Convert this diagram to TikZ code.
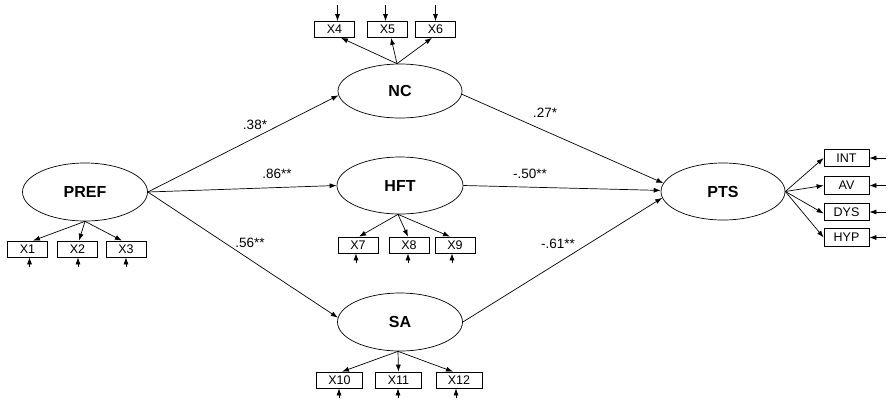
\documentclass[tikz,border=0pt]{standalone}
\usepackage{fontspec}
\setmainfont{Liberation Sans}
\usetikzlibrary{shapes.geometric,arrows.meta}
\begin{document}
\begin{tikzpicture}[x=1pt,y=-1pt,
  lat/.style={draw,ellipse,line width=0.7pt,inner sep=0pt,font=\fontsize{16}{18}\selectfont\bfseries},
  ind/.style={draw,rectangle,line width=0.7pt,inner sep=0pt,minimum width=40pt,minimum height=16pt,font=\fontsize{12.5}{14}\selectfont},
  indw/.style={ind,minimum width=46pt},
  indr/.style={ind,minimum width=45pt,minimum height=17.5pt},
  arr/.style={line width=0.7pt,-{Latex[length=7pt,width=5pt]}},
  coef/.style={font=\fontsize{13.5}{15}\selectfont,inner sep=1pt}]
\useasboundingbox (0,0) rectangle (890,400);
% latent variables
\node[lat,minimum width=125pt,minimum height=58pt] (PREF) at (85,192) {PREF};
\node[lat,minimum width=124pt,minimum height=54pt] (NC) at (400,91) {NC};
\node[lat,minimum width=126pt,minimum height=57pt] (HFT) at (400,185.5) {HFT};
\node[lat,minimum width=125pt,minimum height=58pt] (SA) at (400,322) {SA};
\node[lat,minimum width=124pt,minimum height=57pt] (PTS) at (723,191.5) {PTS};
% indicators
\node[ind] (X1) at (27.5,249) {X1};
\node[ind] (X2) at (77.5,249) {X2};
\node[ind] (X3) at (126,249) {X3};
\node[ind] (X4) at (334.5,29.5) {X4};
\node[ind] (X5) at (387.5,29.5) {X5};
\node[ind] (X6) at (435.5,29.5) {X6};
\node[ind] (X7) at (358,245) {X7};
\node[ind] (X8) at (409,245) {X8};
\node[ind] (X9) at (455,245) {X9};
\node[indw] (X10) at (339.5,380) {X10};
\node[indw] (X11) at (398.5,380) {X11};
\node[indw] (X12) at (459,380) {X12};
\node[indr] (INT) at (846.5,158) {INT};
\node[indr] (AV) at (846.5,185.5) {AV};
\node[indr] (DYS) at (846.5,212) {DYS};
\node[indr] (HYP) at (846.5,237.5) {HYP};
% structural paths
\draw[arr] (PREF.east) -- (NC.184);
\draw[arr] (PREF.east) -- (HFT.west);
\draw[arr] (PREF.east) -- (SA.176);
\draw[arr] (NC.357) -- (PTS.172);
\draw[arr] (HFT.east) -- (PTS.179);
\draw[arr] (SA.east) -- (PTS.186);
% coefficients
\node[coef] (c1) at (255,125) {.38*};
\node[coef] (c2) at (277,174) {.86**};
\node[coef] (c3) at (250,243) {.56**};
\node[coef] (c4) at (545,113) {.27*};
\node[coef] (c5) at (530,174) {-.50**};
\node[coef] (c6) at (558,244) {-.61**};
% measurement paths
\draw[arr] (PREF.south) -- ([xshift=5.5pt]X1.north);
\draw[arr] (PREF.south) -- ([xshift=1.5pt]X2.north);
\draw[arr] (PREF.south) -- ([xshift=-4pt]X3.north);
\draw[arr] ([xshift=-3pt]NC.north) -- ([xshift=6.5pt]X4.south);
\draw[arr] ([xshift=-3pt]NC.north) -- ([xshift=3.5pt]X5.south);
\draw[arr] ([xshift=-3pt]NC.north) -- ([xshift=-3.5pt]X6.south);
\draw[arr] ([xshift=-2pt]HFT.south) -- ([xshift=1pt]X7.north);
\draw[arr] ([xshift=-2pt]HFT.south) -- ([xshift=-1pt]X8.north);
\draw[arr] ([xshift=-2pt]HFT.south) -- ([xshift=-5pt]X9.north);
\draw[arr] ([xshift=-2pt]SA.south) -- ([xshift=2.5pt]X10.north);
\draw[arr] ([xshift=-2pt]SA.south) -- (X11.north);
\draw[arr] ([xshift=-2pt]SA.south) -- ([xshift=-6pt]X12.north);
\draw[arr] (PTS.east) -- (INT.west);
\draw[arr] (PTS.east) -- (AV.west);
\draw[arr] (PTS.east) -- ([yshift=-1.5pt]DYS.west);
\draw[arr] (PTS.east) -- (HYP.west);
% error terms
\foreach \b/\s in {X1/2,X2/0.5,X3/0,X7/-2,X8/-1,X9/-3,X10/-0.5,X11/-0.5,X12/-3}
  \draw[arr] ([xshift=\s pt,yshift=-10pt]\b.south) -- ([xshift=\s pt]\b.south);
\foreach \b/\s in {X4/3,X5/-2,X6/0}
  \draw[arr] ([xshift=\s pt,yshift=16pt]\b.north) -- ([xshift=\s pt]\b.north);
\foreach \b in {INT,AV,DYS,HYP}
  \draw[arr] ([xshift=17pt]\b.east) -- (\b.east);
\end{tikzpicture}
\end{document}
